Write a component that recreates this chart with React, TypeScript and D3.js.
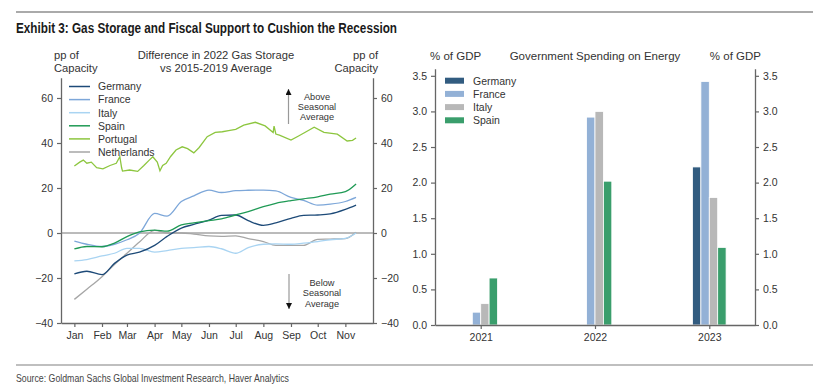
import React, { useRef, useEffect } from 'react';
import * as d3 from 'd3';

// Gas storage: pp of capacity vs 2015-2019 avg, day offsets from Jan 1 2022
const storageDays = [0, 14, 31, 45, 59, 73, 90, 104, 120, 134, 151, 165, 181, 195, 212, 226, 243, 257, 273, 287, 304, 316];
const germany = [-18.2, -17, -18.5, -13.5, -9.8, -8.5, -5.5, -1.5, 2.2, 3.8, 5.7, 7.8, 8, 5.5, 3.4, 4.5, 6.5, 7.8, 8, 8.5, 10.5, 12.4];
const france = [-3.6, -5, -6, -5, -3, -0.1, 8.7, 7.5, 14, 16.5, 19.1, 18, 18.8, 19, 19.1, 18.7, 15.8, 14.5, 12.4, 12.8, 14, 15.8];
const italy = [-12.4, -11.8, -10.2, -9, -6.8, -6.8, -8.5, -7.8, -6.8, -6.5, -6, -7, -9, -6.5, -5, -4.8, -5, -4.5, -3.8, -3, -2.4, 0];
const spain = [-7.1, -6, -6.1, -4.5, -1.6, 0.5, 1.3, 0.8, 3.6, 4.5, 5.5, 6.3, 8, 9.5, 11.7, 13.2, 14.4, 15.2, 16.1, 17.3, 18.4, 21.8];
const netherlands = [-29.5, -25, -19.4, -14, -9, -4, 1.2, 0, 0, -0.5, -1.3, -1.5, -1.3, -2.5, -3.8, -5.5, -5.5, -5.5, -2.8, -2.7, -2.5, 0.3];

// Portugal is noisier, so it gets its own finer dates
const portugalDays = [0, 6, 10, 14, 19, 25, 32, 40, 47, 51, 53, 54, 62, 71, 78, 84, 88, 93, 96, 99, 103, 108, 114, 121, 127, 134, 140, 149, 158, 166, 173, 181, 190, 203, 214, 223, 224, 226, 230, 243, 251, 260, 269, 280, 295, 306, 312, 316];
const portugal = [29.8, 31.5, 32.4, 31, 31.5, 29, 28.5, 30, 31, 33.9, 29, 27.5, 28, 27.4, 30, 32.4, 33.9, 31.5, 27.7, 30, 31, 34, 36.9, 38.3, 37.5, 35.6, 38, 42.8, 44.7, 45, 45.5, 46.1, 47.9, 49.2, 47.6, 44.7, 47.5, 44, 43.5, 41.3, 43, 45, 47, 44.7, 43.9, 40.9, 41.2, 42.2];

const leftTicks = [-40, -20, 0, 20, 40, 60];

// Government spending on energy, % of GDP
const spendYears = ['2021', '2022', '2023'];
const spendGermany = [0, 2.22, 3.13];
const spendFrance = [0.18, 2.92, 3.42];
const spendItaly = [0.3, 3.0, 1.79];
const spendSpain = [0.66, 2.02, 1.09];
const rightTicks = [0, 0.5, 1, 1.5, 2, 2.5, 3, 3.5];

const FONT = '"Liberation Sans", Arial, sans-serif';
const AXIS = '#666';

function App() {
  const chartRef = useRef<SVGSVGElement>(null);

  useEffect(() => {
    const svg = d3.select(chartRef.current);
    svg.selectAll('*').remove();

    // page frame: rules, title, source (condensed via textLength)
    svg.append('line').attr('x1', 16).attr('x2', 813).attr('y1', 12).attr('y2', 12)
      .attr('stroke', '#aaa').attr('stroke-width', 2);
    svg.append('line').attr('x1', 16).attr('x2', 813).attr('y1', 365).attr('y2', 365)
      .attr('stroke', '#aaa').attr('stroke-width', 1.5);
    svg.append('text').attr('x', 16).attr('y', 33)
      .attr('font-family', FONT).attr('font-weight', 'bold').attr('font-size', 14.5)
      .attr('fill', '#1a1a1a').attr('textLength', 381).attr('lengthAdjust', 'spacingAndGlyphs')
      .text('Exhibit 3: Gas Storage and Fiscal Support to Cushion the Recession');
    svg.append('text').attr('x', 16).attr('y', 382)
      .attr('font-family', FONT).attr('font-size', 10.5).attr('fill', '#444')
      .attr('textLength', 273).attr('lengthAdjust', 'spacingAndGlyphs')
      .text('Source: Goldman Sachs Global Investment Research, Haver Analytics');

    // ---------- left chart ----------
    const base = new Date(2022, 0, 1);
    const toDate = (d: number) => d3.timeDay.offset(base, d);

    const x = d3.scaleTime()
      .domain([new Date(2021, 11, 17), new Date(2022, 11, 2)])
      .range([61, 373]);
    const y = d3.scaleLinear().domain([-40, 69]).range([323, 77.75]);

    const L = svg.append('g').attr('font-family', FONT);

    const styleAxis = (g: any) => {
      g.select('.domain').attr('stroke', AXIS).attr('stroke-width', 1.3);
      g.selectAll('.tick line').attr('stroke', AXIS).attr('stroke-width', 1.2);
      g.selectAll('.tick text').attr('fill', '#333').attr('font-size', 10.5).attr('font-family', FONT);
    };

    L.append('g').attr('transform', 'translate(61,0)')
      .call(d3.axisLeft(y).tickValues(leftTicks).tickSize(4).tickSizeOuter(0).tickPadding(4))
      .call(styleAxis);
    L.append('g').attr('transform', 'translate(373,0)')
      .call(d3.axisRight(y).tickValues(leftTicks).tickSize(4).tickSizeOuter(0).tickPadding(4))
      .call(styleAxis);
    L.append('g').attr('transform', 'translate(0,323)')
      .call(d3.axisBottom(x).ticks(d3.timeMonth.every(1)).tickFormat(d3.timeFormat('%b') as any)
        .tickSize(4).tickSizeOuter(0).tickPadding(5))
      .call(styleAxis)
      .call((g: any) => g.selectAll('.tick').filter((d: Date) => d.getFullYear() !== 2022 || d.getMonth() > 10).remove());

    // zero line
    L.append('line').attr('x1', 61).attr('x2', 373).attr('y1', y(0)).attr('y2', y(0))
      .attr('stroke', '#777').attr('stroke-width', 1);

    const line = d3.line<[number, number]>()
      .x(d => x(toDate(d[0])))
      .y(d => y(d[1]));

    const series = [
      { name: 'Germany', color: '#1d4a78', values: germany, days: storageDays },
      { name: 'France', color: '#7da7d9', values: france, days: storageDays },
      { name: 'Italy', color: '#a9d4f2', values: italy, days: storageDays },
      { name: 'Spain', color: '#1f9a55', values: spain, days: storageDays },
      { name: 'Portugal', color: '#8dc63f', values: portugal, days: portugalDays },
      { name: 'Netherlands', color: '#a6a6a6', values: netherlands, days: storageDays },
    ];
    const drawOrder = ['Portugal', 'Netherlands', 'Italy', 'France', 'Germany', 'Spain'];

    drawOrder.forEach(n => {
      const s = series.find(d => d.name === n)!;
      const pts = s.days.map((d, i) => [d, s.values[i]] as [number, number]);
      L.append('path').datum(pts)
        .attr('d', line.curve(n === 'Portugal' ? d3.curveLinear : d3.curveMonotoneX) as any)
        .attr('fill', 'none').attr('stroke', s.color).attr('stroke-width', 1.3);
    });

    // legend
    series.forEach((s, i) => {
      const cy = 86.5 + i * 13.1;
      L.append('line').attr('x1', 69).attr('x2', 90).attr('y1', cy).attr('y2', cy)
        .attr('stroke', s.color).attr('stroke-width', 1.5);
      L.append('text').attr('x', 98).attr('y', cy + 3.8).attr('font-size', 10.5).attr('fill', '#333').text(s.name);
    });

    // headers
    const hdr = (tx: number, ty: number, t: string, anchor: string) =>
      L.append('text').attr('x', tx).attr('y', ty).attr('font-size', 11.2).attr('fill', '#333')
        .attr('text-anchor', anchor).text(t);
    hdr(54, 58.5, 'pp of', 'start');
    hdr(54, 71.5, 'Capacity', 'start');
    hdr(216, 58.5, 'Difference in 2022 Gas Storage', 'middle');
    hdr(216, 71.5, 'vs 2015-2019 Average', 'middle');
    hdr(378, 58.5, 'pp of', 'end');
    hdr(378, 71.5, 'Capacity', 'end');

    // annotations
    const defs = svg.append('defs');
    defs.append('marker').attr('id', 'ahead').attr('viewBox', '0 0 10 10')
      .attr('refX', 10).attr('refY', 5).attr('markerWidth', 6).attr('markerHeight', 6)
      .attr('markerUnits', 'userSpaceOnUse').attr('orient', 'auto')
      .append('path').attr('d', 'M0,0 L10,5 L0,10 z').attr('fill', '#111');

    L.append('line').attr('x1', 288.5).attr('x2', 288.5).attr('y1', 124).attr('y2', 89)
      .attr('stroke', '#999').attr('stroke-width', 1.2).attr('marker-end', 'url(#ahead)');
    ['Above', 'Seasonal', 'Average'].forEach((t, i) =>
      L.append('text').attr('x', 317).attr('y', 99.5 + i * 10.4).attr('font-size', 9.2).attr('fill', '#333')
        .attr('text-anchor', 'middle').text(t));

    L.append('line').attr('x1', 289).attr('x2', 289).attr('y1', 274).attr('y2', 309)
      .attr('stroke', '#999').attr('stroke-width', 1.2).attr('marker-end', 'url(#ahead)');
    ['Below', 'Seasonal', 'Average'].forEach((t, i) =>
      L.append('text').attr('x', 322).attr('y', 286 + i * 10.4).attr('font-size', 9.2).attr('fill', '#333')
        .attr('text-anchor', 'middle').text(t));

    // ---------- right chart ----------
    const R = svg.append('g').attr('font-family', FONT);
    const xr = d3.scalePoint().domain(spendYears).range([435, 755]).padding(0.4);
    const yr = d3.scaleLinear().domain([0, 3.6]).range([325, 68.7]);

    const bars = [
      { name: 'Germany', color: '#325c80', values: spendGermany },
      { name: 'France', color: '#93b1d6', values: spendFrance },
      { name: 'Italy', color: '#b8b8b8', values: spendItaly },
      { name: 'Spain', color: '#3a9e6c', values: spendSpain },
    ];
    const barW = 8.4;
    const inner = d3.scaleBand().domain(bars.map(b => b.name)).range([-2 * barW, 2 * barW]);

    bars.forEach(b => {
      R.selectAll(null).data(spendYears).enter().append('rect')
        .filter((_, i) => b.values[i] > 0)
        .attr('x', d => (xr(d) as number) + (inner(b.name) as number))
        .attr('y', (_, i) => yr(b.values[i]))
        .attr('width', inner.bandwidth())
        .attr('height', (_, i) => yr(0) - yr(b.values[i]))
        .attr('fill', b.color).attr('stroke', '#fff').attr('stroke-width', 0.8);
    });

    const fmt = d3.format('.1f');
    R.append('g').attr('transform', 'translate(435,0)')
      .call(d3.axisLeft(yr).tickValues(rightTicks).tickFormat(fmt as any).tickSize(4).tickSizeOuter(0).tickPadding(4))
      .call(styleAxis);
    R.append('g').attr('transform', 'translate(755,0)')
      .call(d3.axisRight(yr).tickValues(rightTicks).tickFormat(fmt as any).tickSize(4).tickSizeOuter(0).tickPadding(4))
      .call(styleAxis);
    R.append('g').attr('transform', 'translate(0,325)')
      .call(d3.axisBottom(xr).tickSize(4).tickSizeOuter(0).tickPadding(5))
      .call(styleAxis);

    bars.forEach((b, i) => {
      const cy = 80.7 + i * 13.2;
      R.append('rect').attr('x', 445).attr('y', cy - 3).attr('width', 19).attr('height', 6).attr('fill', b.color);
      R.append('text').attr('x', 473).attr('y', cy + 3.8).attr('font-size', 10.5).attr('fill', '#333').text(b.name);
    });

    const rh = (tx: number, t: string, anchor: string) =>
      R.append('text').attr('x', tx).attr('y', 60).attr('font-size', 11.5).attr('fill', '#333')
        .attr('text-anchor', anchor).text(t);
    rh(430, '% of GDP', 'start');
    rh(595, 'Government Spending on Energy', 'middle');
    rh(761, '% of GDP', 'end');
  }, []);

  return (
    <svg ref={chartRef} width={820} height={389}
      style={{ position: 'absolute', left: 0, top: 0, background: '#fff' }} />
  );
}

export default App;
